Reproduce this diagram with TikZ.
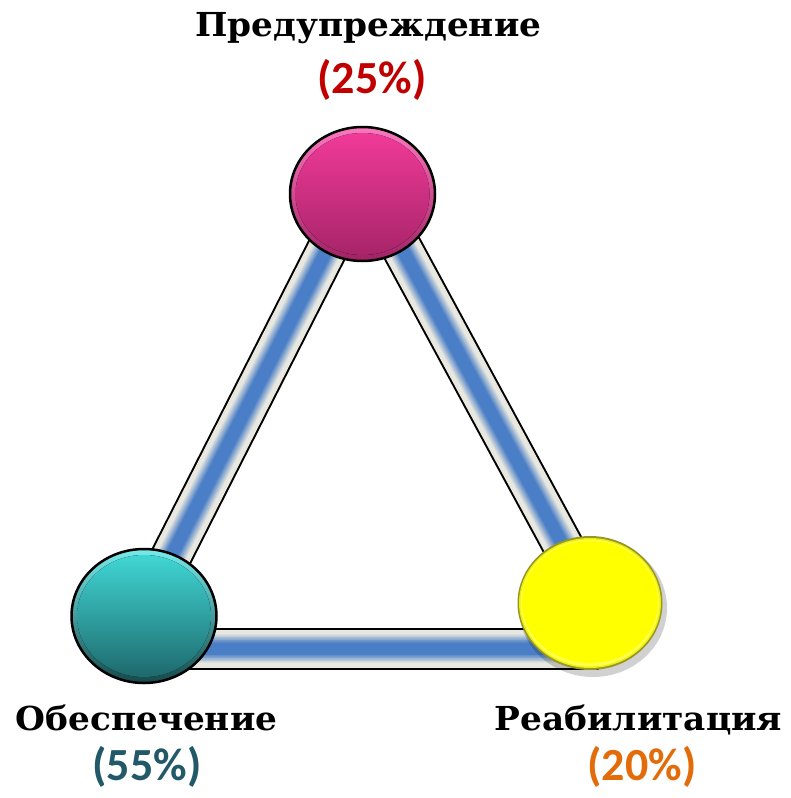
\documentclass[tikz,border=0pt]{standalone}
\usepackage{fontspec}
\setmainfont{DejaVu Serif}
\newfontfamily\labelfont[FakeStretch=1.04]{DejaVu Serif}
\newfontfamily\pctfont{Carlito}
\usetikzlibrary{shapes.geometric}
\definecolor{barEdge}{RGB}{232,232,224}
\definecolor{barBlue}{RGB}{74,126,198}
\definecolor{pinkTop}{RGB}{240,58,152}
\definecolor{pinkBot}{RGB}{160,34,100}
\definecolor{pinkRim}{RGB}{250,120,190}
\definecolor{cyanTop}{RGB}{64,214,212}
\definecolor{cyanBot}{RGB}{30,105,108}
\definecolor{cyanRim}{RGB}{120,235,235}
\definecolor{yelRim}{RGB}{150,150,40}
\definecolor{pureYellow}{RGB}{255,255,0}
\definecolor{pctRed}{RGB}{192,0,0}
\definecolor{pctTeal}{RGB}{33,89,104}
\definecolor{pctOrange}{RGB}{227,108,10}
\newcommand\tribar[3][0pt]{%
  \draw[line width=42pt, black, shorten >=#1] (#2) -- (#3);
  \draw[line width=38pt, barEdge, shorten >=#1] (#2) -- (#3);
  \foreach \k [evaluate=\k as \pct using int(\k*100/12), evaluate=\k as \w using 30-1.5*\k] in {0,...,12}
    {\draw[line width=\w pt, color=barBlue!\pct!barEdge, shorten >=#1] (#2) -- (#3);}
}
\begin{document}
\begin{tikzpicture}[x=1pt,y=-1pt,
  labeltext/.style={anchor=base, font=\labelfont\bfseries\fontsize{33}{38}\selectfont, text=black},
  pcttext/.style={anchor=base, font=\pctfont\bfseries\fontsize{46}{50}\selectfont},
  ball/.style={ellipse, minimum width=145pt, minimum height=134pt, inner sep=0pt}]
\useasboundingbox (0,0) rectangle (790,798);

% triangle vertices (centre lines of the bars)
\coordinate (A) at (363.6,177.6);
\coordinate (BL) at (124.4,648.5);
\coordinate (BR) at (618.8,648.5);

\tribar{A}{BL}
\tribar{A}{BR}
\tribar[20pt]{BL}{BR}

% top (pink) ball
\node[ball, top color=pinkRim, bottom color=pinkBot, draw=black, line width=2.5pt] (P) at (362.5,194) {};
\fill[top color=pinkTop, bottom color=pinkBot!90!pinkTop] (P.center) ellipse [x radius=67, y radius=61];

% cyan ball
\node[ball, top color=cyanRim, bottom color=cyanBot!70!black, draw=black, line width=2.5pt] (C) at (144,616) {};
\fill[top color=cyanTop, bottom color=cyanBot] (C.center) ellipse [x radius=67, y radius=61];

% yellow ball
\fill[black, opacity=0.18] (593,608) ellipse [x radius=74, y radius=69];
\node[ball, fill=yelRim] (Y) at (590,603) {};
\fill[pureYellow!85!yelRim] (Y.center) ellipse [x radius=71, y radius=65];
\fill[pureYellow!70!white] (Y.center) ellipse [x radius=69.5, y radius=63.5];
\fill[pureYellow] ([yshift=1]Y.center) ellipse [x radius=68, y radius=61];

% labels
\node[labeltext] (tP) at (368.5,36) {Предупреждение};
\node[pcttext, text=pctRed] (pP) at (372,93) {(25\%)};

\node[labeltext] (tC) at (146.5,730) {Обеспечение};
\node[pcttext, text=pctTeal] (pC) at (147,780) {(55\%)};

\node[labeltext] (tY) at (638.5,730) {Реабилитация};
\node[pcttext, text=pctOrange] (pY) at (642,780) {(20\%)};
\end{tikzpicture}
\end{document}
